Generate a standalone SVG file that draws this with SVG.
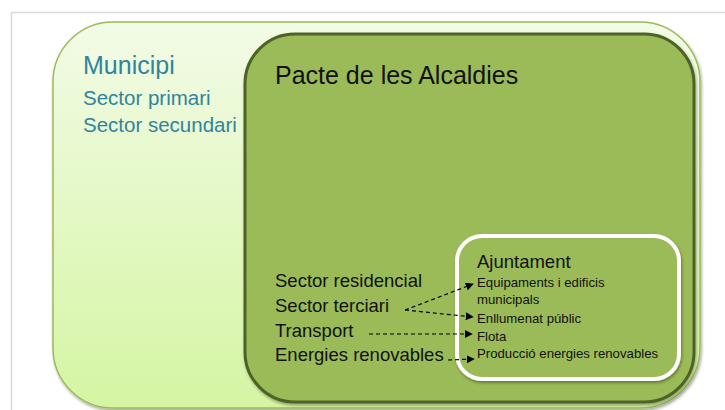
<svg xmlns="http://www.w3.org/2000/svg" width="725" height="410" viewBox="0 0 725 410">
<defs>
<linearGradient id="outerGrad" x1="0" y1="0" x2="0" y2="1">
<stop offset="0" stop-color="#f2fbe6"/>
<stop offset="1" stop-color="#d5f5a3"/>
</linearGradient>
<filter id="shadow" x="-5%" y="-5%" width="110%" height="110%">
<feDropShadow dx="1" dy="2" stdDeviation="1.5" flood-color="#000" flood-opacity="0.35"/>
</filter>
<marker id="arrow" viewBox="0 0 10 10" refX="9" refY="5" markerWidth="8" markerHeight="8" markerUnits="userSpaceOnUse" orient="auto">
<path d="M0,0 L10,5 L0,10 Z" fill="#000"/>
</marker>
<style>
.teal{font-family:"Liberation Sans",Arial,sans-serif;fill:#31849b}
.blk{font-family:"Liberation Sans",Arial,sans-serif;fill:#111}
.conn{stroke:#000;stroke-width:1.2;stroke-dasharray:4 3;fill:none;marker-end:url(#arrow)}
</style>
</defs>
<rect width="725" height="410" fill="#fff"/>
<path d="M11.5,410 V12.5 H725" fill="none" stroke="#d9d9d9" stroke-width="1.5"/>
<g id="municipi">
<rect x="53" y="22" width="647" height="386" rx="60" fill="url(#outerGrad)" stroke="#9bbb59" stroke-width="1.5" filter="url(#shadow)"/>
<text class="teal" x="83" y="74" font-size="25">Municipi</text>
<text class="teal" x="83" y="105" font-size="20.5">Sector primari</text>
<text class="teal" x="83" y="132" font-size="20.5">Sector secundari</text>
</g>
<g id="pacte">
<rect x="245" y="34" width="449" height="368" rx="50" fill="#9bbb59" stroke="#4f6228" stroke-width="3" filter="url(#shadow)"/>
<text class="blk" x="275" y="84" font-size="25">Pacte de les Alcaldies</text>
<text class="blk" x="275" y="287" font-size="18.5">Sector residencial</text>
<text class="blk" x="275" y="312" font-size="18.5">Sector terciari</text>
<text class="blk" x="275" y="337" font-size="18.5">Transport</text>
<text class="blk" x="275" y="361" font-size="18.5">Energies renovables</text>
</g>
<g id="ajuntament">
<rect x="457" y="236" width="222" height="143" rx="25" fill="#9bbb59" stroke="#fff" stroke-width="4" filter="url(#shadow)"/>
<text class="blk" x="477" y="268" font-size="18.5">Ajuntament</text>
<text class="blk" x="477" y="287" font-size="13.2">Equipaments i edificis</text>
<text class="blk" x="477" y="304" font-size="13.2">municipals</text>
<text class="blk" x="477" y="322.5" font-size="13.2">Enllumenat públic</text>
<text class="blk" x="477" y="340.5" font-size="13.2">Flota</text>
<text class="blk" x="477" y="358" font-size="13.2">Producció energies renovables</text>
</g>
<g id="connectors">
<line class="conn" x1="405" y1="310" x2="473" y2="284"/>
<line class="conn" x1="405" y1="310" x2="473" y2="317"/>
<line class="conn" x1="369" y1="334" x2="472" y2="334"/>
<line class="conn" x1="448" y1="360" x2="474" y2="359"/>
</g>
</svg>
